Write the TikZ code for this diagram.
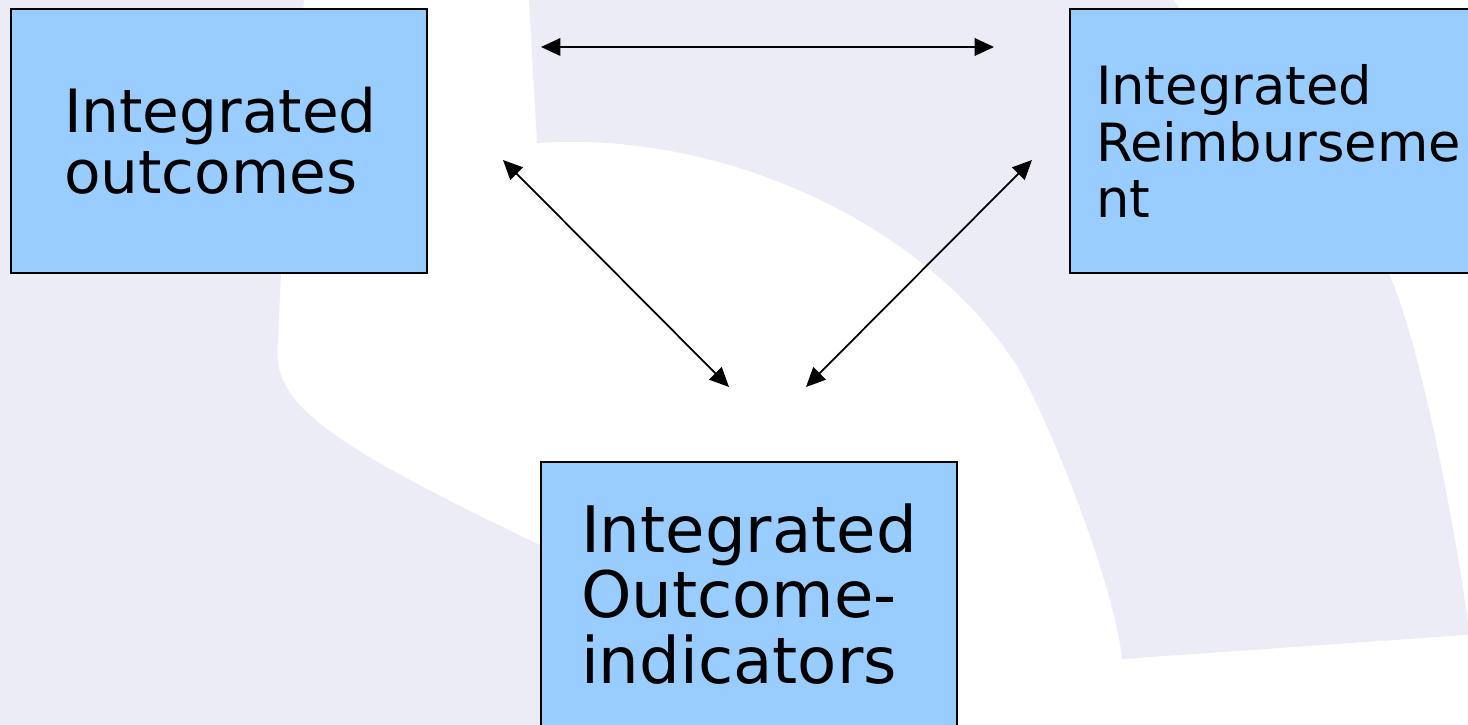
\documentclass[tikz,border=0pt]{standalone}
\usepackage{fontspec}
\setmainfont{DejaVu Sans}
\usetikzlibrary{arrows.meta}
\definecolor{boxblue}{RGB}{153,204,255}
\definecolor{bglav}{RGB}{236,236,246}

\begin{document}
\begin{tikzpicture}[box/.style={draw=black,line width=0.8pt,fill=boxblue,minimum width=8.32cm,minimum height=5.28cm,inner sep=0pt,align=left},
  link/.style={{Triangle[length=11pt,width=10pt]}-{Triangle[length=11pt,width=10pt]},line width=1pt}]
% page and background
\useasboundingbox (0,0) rectangle (29.36,14.5);
\clip (0,0) rectangle (29.36,14.5);
\fill[white] (0,0) rectangle (29.36,14.5);
\fill[bglav] (0,0) -- (0,14.5) -- (6.08,14.5) -- (5.62,9.04) -- (5.55,7.5)
  .. controls (5.5,6.4) and (6.6,5.6) .. (10.8,3.6) -- (13,2.3) -- (14,0) -- cycle;
\fill[bglav] (10.58,14.5) -- (10.74,11.64) .. controls (14.5,11.9) and (18.5,10) .. (20.3,7.24)
  .. controls (20.9,6.32) and (22.3,2.8) .. (22.44,1.32) -- (29.6,1.82) -- (29.6,2.05) -- (29.36,2.05)
  .. controls (29.0,4.6) and (28.3,8.0) .. (27.7,9.2) -- (23.46,14.5) -- cycle;

\node[box,text width=6.2cm,font=\fontsize{34}{34.6}\selectfont] (outc) at (4.38,11.68) {Integrated\\outcomes};
\node[box,text width=7.28cm,font=\fontsize{30}{32}\selectfont] (reimb) at (25.56,11.68) {Integrated\\Reimburseme\\nt};
\node[box,text width=6.72cm,font=\fontsize{36.5}{37.5}\selectfont] (indic) at (14.98,2.62) {Integrated\\Outcome-\\indicators};

\coordinate (hl) at (10.82,13.56);
\coordinate (hr) at (19.88,13.56);
\coordinate (ol) at (10.06,11.3);
\coordinate (il) at (14.58,6.76);
\coordinate (rl) at (20.64,11.3);
\coordinate (ir) at (16.12,6.76);

\path[link] (hl) edge (hr)
	(ol) edge (il)
	(rl) edge (ir);
\end{tikzpicture}
\end{document}
